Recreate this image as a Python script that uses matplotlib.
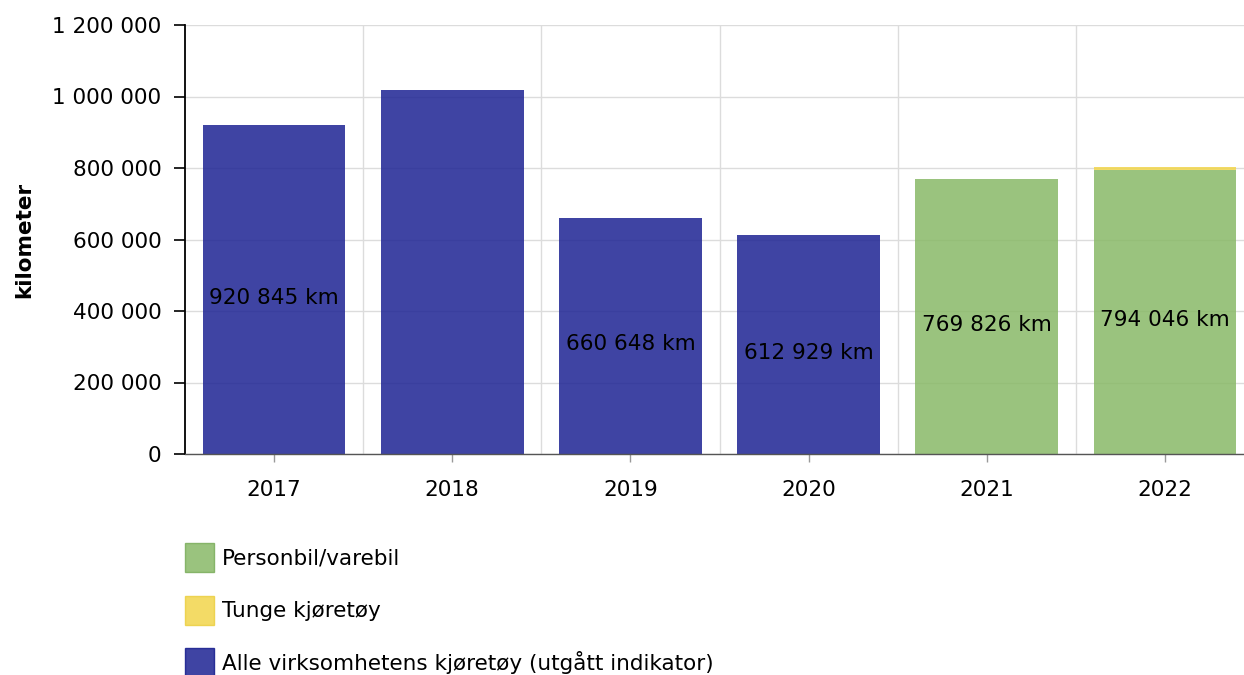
import numpy as np
import matplotlib.pyplot as plt
from matplotlib.patches import Patch
from matplotlib.ticker import FuncFormatter, FixedLocator

plt.rcParams['font.family'] = ['DejaVu Sans']

years = ['2017', '2018', '2019', '2020', '2021', '2022']
alle = [920845, 1017000, 660648, 612929, 0, 0]
personbil = [0, 0, 0, 0, 769826, 794046]
tunge = [0, 0, 0, 0, 0, 10000]
labels = ['920 845 km', '', '660 648 km', '612 929 km', '769 826 km', '794 046 km']

# slightly transparent fills so the grid shows through the bars
blue = '#1d2393'
green = '#89b967'
yellow = '#f1d54b'
alpha = 0.85
fs = 15.5

fig = plt.figure(figsize=(12.44, 6.75), dpi=100)
ax = fig.add_axes([185 / 1244, 1 - 454 / 675, 1069 / 1244, 429 / 675])

x = np.arange(len(years))
w = 0.8
ax.bar(x, alle, w, color=blue, alpha=alpha, zorder=2)
ax.bar(x, personbil, w, color=green, alpha=alpha, zorder=2)
ax.bar(x, tunge, w, bottom=personbil, color=yellow, alpha=alpha, zorder=2)

# value labels near the middle of each bar
for i, lab in enumerate(labels):
    if not lab:
        continue
    h = alle[i] + personbil[i]
    ax.annotate(lab, (x[i], h / 2), xytext=(0, -6), textcoords='offset points',
                ha='center', va='center', fontsize=fs, color='black', zorder=3)

ax.set_xlim(-0.5, len(years) - 0.5)
ax.set_ylim(0, 1200000)
ax.set_yticks(np.arange(0, 1200001, 200000))
ax.yaxis.set_major_formatter(FuncFormatter(lambda v, p: f'{int(v):,}'.replace(',', ' ')))
ax.set_xticks(x)
ax.set_xticklabels(years)
ax.xaxis.set_minor_locator(FixedLocator(x[:-1] + 0.5))

ax.grid(axis='y', color='#dcdcdc', linewidth=1, zorder=0)
ax.grid(axis='x', which='minor', color='#dcdcdc', linewidth=1, zorder=0)
ax.grid(axis='x', which='major', visible=False)
ax.set_axisbelow(True)

for s in ['top', 'right']:
    ax.spines[s].set_visible(False)
ax.spines['left'].set_color('black')
ax.spines['left'].set_linewidth(1.3)
ax.spines['bottom'].set_color('#555555')
ax.spines['bottom'].set_linewidth(1)

ax.tick_params(axis='y', length=8, width=1.2, color='black', pad=9, labelsize=fs)
ax.tick_params(axis='x', which='major', length=6, width=1, color='#999999', pad=13, labelsize=fs)
ax.tick_params(axis='x', which='minor', length=0)

ax.set_ylabel('kilometer', fontsize=fs, fontweight='bold')
ax.yaxis.set_label_coords(-151 / 1069, 0.5)

handles = [
    Patch(facecolor=green, alpha=alpha, edgecolor='#7aac5a', label='Personbil/varebil'),
    Patch(facecolor=yellow, alpha=alpha, edgecolor='#eccf40', label='Tunge kjøretøy'),
    Patch(facecolor=blue, alpha=alpha, edgecolor='#141a8c', label='Alle virksomhetens kjøretøy (utgått indikator)'),
]
fig.legend(handles=handles, loc='upper left', bbox_to_anchor=(185 / 1244, 1 - 543 / 675),
           frameon=False, fontsize=fs, handlelength=1.35, handleheight=1.7,
           handletextpad=0.35, labelspacing=1.1, borderaxespad=0, borderpad=0)

fig.savefig('out.png', dpi=100)
